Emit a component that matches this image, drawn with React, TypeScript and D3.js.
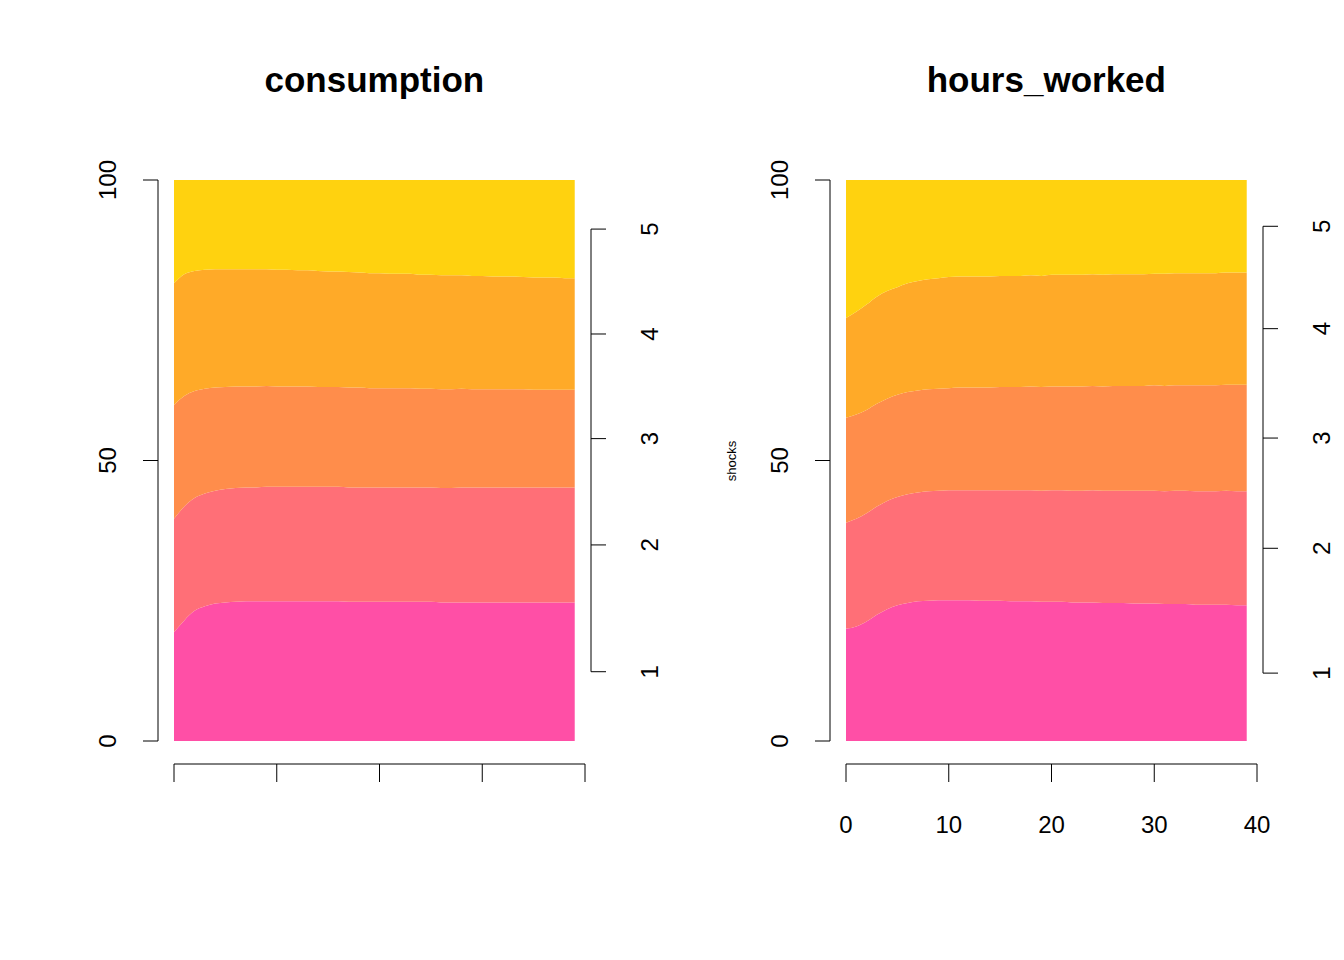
import React, { useEffect, useRef } from 'react'
import * as d3 from 'd3'

// share (%) of each shock in forecast error variance, horizons 0..39
const consS1 = [19.4,21.5,23.2,24.0,24.5,24.7,24.8,24.9,24.9,24.9,24.9,24.9,24.9,24.9,24.9,24.9,24.9,24.8,24.8,24.8,24.8,24.8,24.8,24.8,24.8,24.8,24.7,24.7,24.7,24.7,24.7,24.7,24.7,24.7,24.7,24.7,24.7,24.7,24.7,24.7]
const consS2 = [20.2,20.3,20.1,20.1,20.1,20.2,20.3,20.3,20.3,20.4,20.4,20.4,20.4,20.4,20.4,20.4,20.4,20.4,20.4,20.4,20.4,20.4,20.4,20.4,20.4,20.4,20.4,20.4,20.5,20.5,20.5,20.5,20.5,20.5,20.5,20.5,20.5,20.5,20.5,20.5]
const consS3 = [20.3,19.7,19.1,18.7,18.4,18.2,18.1,18.0,18.0,18.0,17.9,17.9,17.9,17.9,17.8,17.8,17.8,17.8,17.8,17.7,17.7,17.7,17.7,17.7,17.6,17.6,17.6,17.6,17.6,17.5,17.5,17.5,17.5,17.5,17.5,17.4,17.4,17.4,17.4,17.4]
const consS4 = [21.7,21.7,21.4,21.2,21.1,21.0,20.9,20.9,20.9,20.8,20.8,20.8,20.7,20.7,20.7,20.6,20.6,20.6,20.5,20.5,20.5,20.4,20.4,20.4,20.3,20.3,20.3,20.3,20.2,20.2,20.2,20.1,20.1,20.1,20.0,20.0,20.0,20.0,19.9,19.9]

const hoursS1 = [20.0,20.4,21.3,22.5,23.5,24.2,24.6,24.9,25.0,25.1,25.1,25.1,25.1,25.0,25.0,25.0,24.9,24.9,24.9,24.8,24.8,24.8,24.7,24.7,24.7,24.6,24.6,24.6,24.5,24.5,24.5,24.4,24.4,24.4,24.3,24.3,24.3,24.3,24.2,24.2]
const hoursS2 = [18.9,19.2,19.3,19.3,19.3,19.3,19.4,19.4,19.5,19.5,19.6,19.6,19.6,19.7,19.7,19.7,19.8,19.8,19.8,19.8,19.9,19.9,19.9,19.9,20.0,20.0,20.0,20.0,20.1,20.1,20.1,20.1,20.2,20.2,20.2,20.2,20.2,20.3,20.3,20.3]
const hoursS3 = [18.7,18.6,18.4,18.3,18.2,18.2,18.2,18.2,18.2,18.2,18.2,18.3,18.3,18.3,18.3,18.4,18.4,18.4,18.5,18.5,18.5,18.5,18.6,18.6,18.6,18.6,18.7,18.7,18.7,18.7,18.8,18.8,18.8,18.8,18.9,18.9,18.9,18.9,19.0,19.0]
const hoursS4 = [17.8,18.3,18.8,19.1,19.2,19.2,19.4,19.5,19.6,19.7,19.8,19.8,19.8,19.8,19.8,19.8,19.8,19.8,19.8,19.8,19.9,19.9,19.9,19.9,19.9,19.9,19.9,19.9,19.9,19.9,19.9,20.0,20.0,20.0,20.0,20.0,20.0,20.0,20.0,20.0]

const colors = ['#FF4FA6', '#FF6F77', '#FF8D4B', '#FFAA28', '#FFD20F']
const yTicks = [0, 50, 100]
const xTicks = [0, 10, 20, 30, 40]
const shockLabels = ['1', '2', '3', '4', '5']

const panels = [
  { title: 'consumption', shares: [consS1, consS2, consS3, consS4], x0: 174, showX: false },
  { title: 'hours_worked', shares: [hoursS1, hoursS2, hoursS3, hoursS4], x0: 846, showX: true },
]

export default function App() {
  const ref = useRef<SVGSVGElement>(null)

  useEffect(() => {
    const svg = d3.select(ref.current)
    svg.selectAll('*').remove()
    const font = 'Liberation Sans, Arial, sans-serif'
    const y = d3.scaleLinear().domain([0, 100]).range([741, 180])

    panels.forEach(p => {
      const x = d3.scaleLinear().domain([0, 40]).range([p.x0, p.x0 + 411])
      const rows = p.shares[0].map((_, t) => {
        const r: any = { t }
        let sum = 0
        p.shares.forEach((s, k) => { r['s' + k] = s[t]; sum += s[t] })
        r.s4 = 100 - sum
        return r
      })
      const stack = d3.stack().keys(['s0', 's1', 's2', 's3', 's4'])(rows)
      const area = d3.area<any>()
        .x(d => x(d.data.t))
        .y0(d => y(d[0]))
        .y1(d => y(d[1]))
        .curve(d3.curveMonotoneX)
      const g = svg.append('g')
      g.selectAll('path.layer').data(stack).enter().append('path')
        .attr('d', area as any)
        .attr('fill', (_, i) => colors[i])

      // title
      g.append('text').attr('x', x(19.5)).attr('y', 92).attr('text-anchor', 'middle')
        .style('font-family', font).style('font-size', '35px').style('font-weight', 'bold')
        .text(p.title)

      // left y axis
      const ax = p.x0 - 16
      g.append('line').attr('x1', ax).attr('x2', ax).attr('y1', y(0)).attr('y2', y(100)).attr('stroke', '#000')
      yTicks.forEach(v => {
        g.append('line').attr('x1', ax - 15).attr('x2', ax).attr('y1', y(v)).attr('y2', y(v)).attr('stroke', '#000')
        g.append('text').attr('transform', `translate(${ax - 50},${y(v)}) rotate(-90)`)
          .attr('text-anchor', 'middle').attr('dy', '0.35em')
          .style('font-family', font).style('font-size', '24px').text(v)
      })

      // x axis
      g.append('line').attr('x1', x(0)).attr('x2', x(40)).attr('y1', 764).attr('y2', 764).attr('stroke', '#000')
      xTicks.forEach(v => {
        g.append('line').attr('x1', x(v)).attr('x2', x(v)).attr('y1', 764).attr('y2', 782).attr('stroke', '#000')
        if (p.showX) g.append('text').attr('x', x(v)).attr('y', 833).attr('text-anchor', 'middle')
          .style('font-family', font).style('font-size', '24px').text(v)
      })

      // right shock axis at midpoints of last horizon layers
      const last = stack.map(s => s[s.length - 1])
      const mids = last.map(d => (d[0] + d[1]) / 2)
      const rx = x(40) + 6
      g.append('line').attr('x1', rx).attr('x2', rx).attr('y1', y(mids[0])).attr('y2', y(mids[4])).attr('stroke', '#000')
      mids.forEach((m, i) => {
        g.append('line').attr('x1', rx).attr('x2', rx + 15).attr('y1', y(m)).attr('y2', y(m)).attr('stroke', '#000')
        g.append('text').attr('transform', `translate(${rx + 59},${y(m)}) rotate(-90)`)
          .attr('text-anchor', 'middle').attr('dy', '0.35em')
          .style('font-family', font).style('font-size', '24px').text(shockLabels[i])
      })
    })

    svg.append('text').attr('transform', 'translate(731,461) rotate(-90)')
      .attr('text-anchor', 'middle').attr('dy', '0.35em')
      .style('font-family', 'Liberation Sans, Arial, sans-serif').style('font-size', '13px').text('shocks')
  }, [])

  return (
    <svg ref={ref} width={1344} height={960}
      style={{ position: 'absolute', left: 0, top: 0, background: '#fff' }} />
  )
}
